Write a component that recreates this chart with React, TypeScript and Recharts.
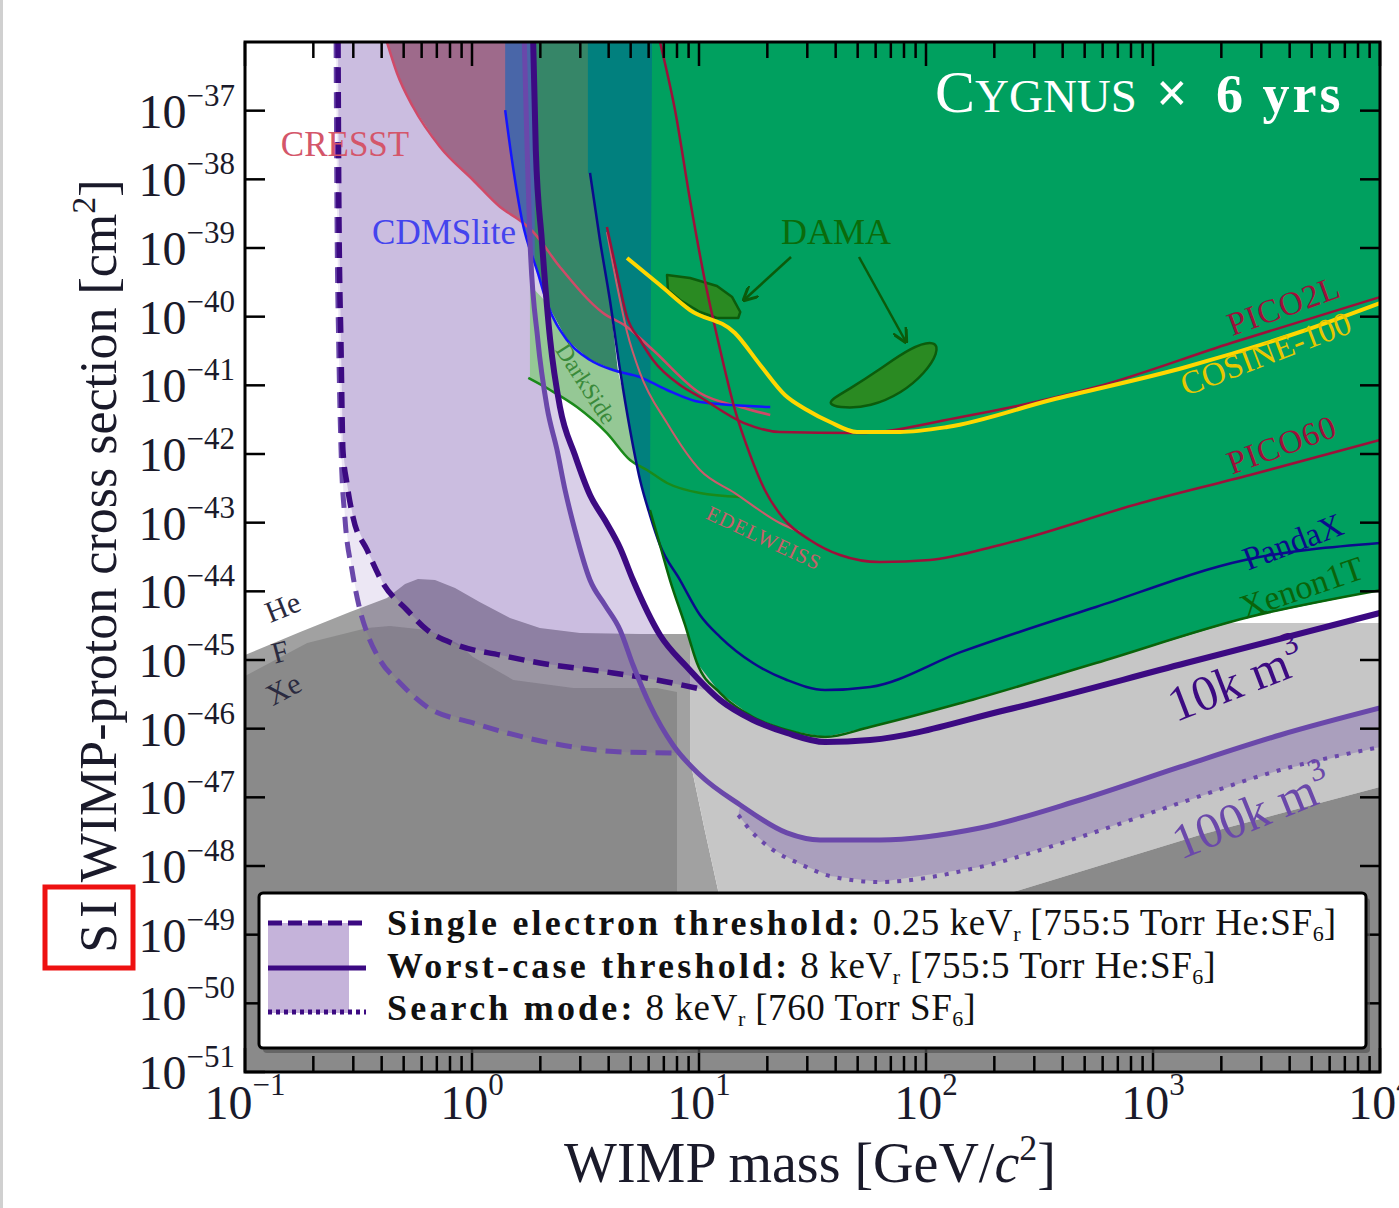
import React from "react";
import { ComposedChart, Scatter, XAxis, YAxis } from "recharts";

type Pt = [number, number];

// axes: WIMP mass [GeV/c^2] (log) and SI cross section [cm^2] (log)
const xMajor = [0.1, 1, 10, 100, 1000, 10000];
const xMinorSteps = [2, 3, 4, 5, 6, 7, 8, 9];
const yTicks = [
  1e-37, 1e-38, 1e-39, 1e-40, 1e-41, 1e-42, 1e-43, 1e-44, 1e-45, 1e-46, 1e-47, 1e-48, 1e-49, 1e-50, 1e-51,
];

// neutrino floor shading
const floorUpper: Pt[] = [
  [0.1, 1.18e-45], [0.175, 2.56e-45], [0.29, 5.0e-45], [0.422, 8.0e-45], [0.507, 1.28e-44],
  [0.578, 1.51e-44], [0.687, 1.46e-44], [0.842, 1.12e-44], [1.08, 7.0e-45], [1.47, 4.09e-45],
  [1.99, 2.92e-45], [2.99, 2.47e-45], [5.5, 2.39e-45], [9.13, 2.39e-45], [9.13, 3.5e-47],
  [10.6, 3.34e-48], [12.4, 3.2e-49], [14.4, 1.12e-50], [15.2, 1e-51], [0.1, 1e-51],
];
const floorLower: Pt[] = [
  [0.1, 5.85e-46], [0.188, 1.77e-45], [0.345, 2.92e-45], [0.435, 3.13e-45], [0.634, 2.74e-45],
  [0.859, 1.77e-45], [1.01, 1.11e-45], [1.52, 5.12e-46], [2.79, 3.91e-46], [6.53, 3.91e-46],
  [8.0, 3.42e-46], [8.0, 1e-51], [0.1, 1e-51],
];
const floorLight: Pt[] = [
  [9.13, 3.46e-45], [10000, 3.46e-45], [10000, 1.42e-47], [1610, 2.82e-48], [242, 4.18e-49],
  [76.8, 9.89e-50], [34.1, 1.85e-50], [18.6, 2.92e-51], [15.2, 1e-51], [14.4, 1.12e-50],
  [12.4, 3.2e-49], [10.6, 3.34e-48], [9.13, 3.5e-47],
];
const floorDeep: Pt[] = [
  [242, 4.18e-49], [1610, 2.82e-48], [10000, 1.42e-47], [10000, 1e-51], [8.0, 1e-51],
  [8.0, 1.9e-51], [18.6, 2.92e-51], [34.1, 1.85e-50], [76.8, 9.89e-50],
];

// CYGNUS projections
const dashed10k: Pt[] = [
  [0.257, 1e-36], [0.259, 5.0e-39], [0.265, 3.27e-41], [0.27, 1.14e-42], [0.281, 3.78e-43],
  [0.299, 1.21e-43], [0.345, 4.0e-44], [0.405, 1.32e-44], [0.517, 5.35e-45], [0.634, 2.74e-45],
  [0.859, 1.65e-45], [1.33, 1.18e-45], [1.99, 9.04e-46], [3.93, 6.68e-46], [6.53, 5.12e-46],
  [10.6, 3.66e-46],
];
const solid10k: Pt[] = [
  [1.86, 1e-36], [1.91, 2.67e-38], [2.03, 1.31e-39], [2.21, 4.57e-41], [2.44, 4.84e-42],
  [2.84, 9.67e-43], [3.31, 2.53e-43], [3.85, 1.09e-43], [4.49, 4.28e-44], [5.12, 1.46e-44],
  [6.73, 2.31e-45], [8.85, 7.91e-46], [12.4, 2.61e-46], [17.3, 1.34e-46], [24.4, 8.65e-47],
  [35.9, 6.4e-47], [56.7, 6.84e-47], [225, 1.87e-46], [1400, 9.04e-46], [10000, 4.84e-45],
];
const dashed100k: Pt[] = [
  [0.252, 1e-36], [0.254, 5.0e-39], [0.259, 3.27e-41], [0.265, 1.14e-42], [0.276, 1.09e-43],
  [0.296, 2.05e-44], [0.321, 5.35e-45], [0.345, 2.47e-45], [0.393, 1.0e-45], [0.482, 4.62e-46],
  [0.634, 2.07e-46], [1.01, 1.21e-46], [1.68, 7.57e-47], [2.79, 5.41e-47], [4.63, 4.57e-47],
  [8.25, 4.43e-47],
];
const solid100k: Pt[] = [
  [1.7, 1e-36], [1.75, 2.67e-38], [1.8, 1.31e-39], [1.95, 4.57e-41], [2.14, 4.84e-42],
  [2.37, 1.14e-42], [2.57, 2.99e-43], [2.84, 7.82e-44], [3.31, 1.46e-44], [3.85, 6.32e-45],
  [4.49, 2.74e-45], [5.12, 8.45e-46], [6.08, 2.21e-46], [7.68, 5.78e-47], [10.1, 2.11e-47],
  [15.2, 7.73e-48], [24.4, 3.03e-48], [34.1, 2.39e-48], [62.7, 2.39e-48], [173, 3.57e-48],
  [477, 9.14e-48], [1315, 2.77e-47], [3630, 8.09e-47], [10000, 2.0e-46],
];
const dotted100k: Pt[] = [
  [14.9, 5.53e-48], [16.8, 3.34e-48], [20.6, 1.83e-48], [27.9, 1.07e-48], [37.8, 7.14e-49],
  [62.7, 5.85e-49], [173, 9.68e-49], [477, 2.64e-48], [1315, 8.28e-48], [3630, 2.5e-47],
  [10000, 5.41e-47],
];

// existing limits
const cresstLine: Pt[] = [
  [0.422, 1e-36], [0.467, 3.54e-37], [0.55, 1.13e-37], [0.723, 2.96e-38], [1.01, 9.78e-39],
  [1.33, 3.95e-39], [1.66, 2.39e-39], [1.86, 1.71e-39], [2.44, 5.28e-40], [3.78, 1.13e-40],
  [4.82, 7.08e-41], [6.27, 3.27e-41], [10.1, 7.73e-42], [15.2, 4.84e-42], [20.6, 3.7e-42],
];
const cdmsLine: Pt[] = [
  [1.4, 1.02e-37], [1.5, 1.91e-38], [1.66, 2.56e-39], [1.95, 4.33e-40], [2.14, 1.58e-40],
  [2.62, 4.57e-41], [3.31, 2.34e-41], [4.18, 1.67e-41], [5.5, 1.32e-41], [7.23, 8.55e-42],
  [10.1, 5.71e-42], [20.6, 4.84e-42],
];
const darkSideLine: Pt[] = [
  [1.77, 1.28e-41], [2.21, 8.55e-42], [2.9, 4.84e-42], [3.93, 2.02e-42], [4.97, 8.18e-43],
  [5.9, 5.85e-43], [7.23, 3.78e-43], [10.1, 2.7e-43], [15.2, 2.37e-43],
];
const darkSideRegion: Pt[] = [
  [1.8, 2.89e-40], [2.14, 1.58e-40], [2.62, 4.57e-41], [3.31, 2.34e-41], [4.4, 1.56e-41],
  [4.72, 6.11e-42], [5.07, 1.6e-42], [5.28, 7.66e-43], [4.97, 8.18e-43], [3.93, 2.02e-42],
  [2.9, 4.84e-42], [2.21, 8.55e-42], [1.8, 1.28e-41],
];
const edelweissLine: Pt[] = [
  [3.93, 1.71e-39], [4.35, 2.89e-40], [4.82, 5.98e-41], [5.5, 1.51e-41], [7.23, 2.82e-42],
  [10.1, 5.85e-43], [14.4, 2.7e-43], [22.7, 9.89e-44], [27.9, 7.31e-44],
];
const pico2lLine: Pt[] = [
  [3.93, 2.02e-39], [4.35, 4.33e-40], [4.82, 9.89e-41], [5.5, 4.57e-41], [6.27, 2.34e-41],
  [8.25, 1.01e-41], [10.1, 6.76e-42], [15.8, 2.82e-42], [22.7, 2.09e-42], [49.7, 2.02e-42],
  [143, 3.46e-42], [561, 9.46e-42], [2210, 4.14e-41], [10000, 1.93e-40],
];
const pico60Line: Pt[] = [
  [6.73, 1e-36], [7.84, 1.02e-37], [9.13, 5.0e-39], [10.6, 3.42e-40], [12.4, 3.27e-41],
  [14.4, 4.38e-42], [16.8, 9.67e-43], [19.5, 2.99e-43], [23.9, 1.09e-43], [30.8, 5.6e-44],
  [41.8, 3.38e-44], [62.7, 2.67e-44], [104, 2.86e-44], [212, 4.73e-44], [885, 1.93e-43],
  [2675, 4.94e-43], [10000, 1.6e-42],
];
const cosineLine: Pt[] = [
  [4.82, 7.14e-40], [6.73, 2.89e-40], [9.13, 1.25e-40], [14.4, 5.78e-41], [18.6, 1.98e-41],
  [23.9, 7.23e-42], [29.9, 4.38e-42], [37.8, 2.92e-42], [49.7, 2.09e-42], [76.8, 2.09e-42],
  [124, 2.47e-42], [355, 6.11e-42], [1400, 1.85e-41], [4440, 5.98e-41], [10000, 1.58e-40],
];
const pandaxLine: Pt[] = [
  [3.31, 1.24e-38], [3.66, 1.31e-39], [4.05, 1.75e-40], [4.49, 1.67e-41], [4.97, 2.24e-42],
  [5.5, 4.18e-43], [6.08, 1.29e-43], [6.73, 4.73e-44], [8.25, 1.46e-44], [10.1, 4.52e-45],
  [12.4, 2.16e-45], [17.3, 9.04e-46], [24.4, 5.12e-46], [35.9, 3.66e-46], [56.7, 4.05e-46],
  [143, 1.31e-45], [561, 5.92e-45], [2540, 2.86e-44], [10000, 5.06e-44],
];
const xenonLine: Pt[] = [
  [6.08, 1.53e-43], [6.73, 4.73e-44], [7.45, 1.46e-44], [8.68, 3.24e-45], [9.8, 9.04e-46],
  [12.4, 3.3e-46], [17.3, 1.48e-46], [24.4, 9.57e-47], [35.9, 7.57e-47], [56.7, 1.06e-46],
  [143, 2.37e-46], [561, 9.04e-46], [2650, 4.23e-45], [10000, 1.04e-44],
];
const dama1: Pt[] = [
  [7.23, 4.05e-40], [9.13, 3.66e-40], [12.0, 2.8e-40], [14.0, 1.93e-40], [15.2, 1.17e-40],
  [14.9, 9.57e-41], [12.0, 9.57e-41], [10.1, 1.17e-40], [8.25, 1.75e-40], [7.3, 2.44e-40],
];
const dama2: Pt[] = [
  [37.8, 6.11e-42], [45.3, 8.55e-42], [62.1, 1.67e-41], [85.9, 3.61e-41], [111, 4.57e-41],
  [113, 2.96e-41], [99.0, 1.51e-41], [78.4, 7.73e-42], [56.7, 4.84e-42], [43.1, 4.68e-42],
  [37.8, 5.18e-42],
];

// filled regions assembled from the curves above
const band10k: Pt[] = [...dashed10k, ...solid10k.filter((p) => p[0] < 10.6).reverse()];
const band100k: Pt[] = [...dashed100k, ...solid100k.filter((p) => p[0] < 8.25).reverse()];
const search100k: Pt[] = [...solid100k.filter((p) => p[0] >= 15.2), ...dotted100k.slice().reverse()];
const cresstRegion: Pt[] = [...cresstLine.slice(0, 7), [1.55, 1e-36]];
const cdmsRegion: Pt[] = [[1.4, 1e-36], [3.31, 1e-36], ...cdmsLine.slice(0, 7).reverse()];
const mixRegion: Pt[] = [
  [1.89, 1e-36], [3.31, 1e-36], ...pandaxLine.slice(0, 3), [4.4, 1.56e-41],
  ...cdmsLine.slice(3, 7).reverse(), [1.89, 5.5e-40],
];
const tealRegion: Pt[] = [[3.24, 1e-36], [6.21, 1e-36], [6.21, 1.21e-43], ...pandaxLine.slice(0, 7).reverse(), [3.24, 1.24e-38]];
const greenRegion: Pt[] = [[6.21, 1e-36], [10000, 1e-36], ...xenonLine.slice().reverse()];

const P10 = "#3c0a82";
const P100 = "#6a48aa";
const BAND = "#6b46a8";

interface Layer {
  data: Pt[];
  fill?: string;
  op?: number;
  stroke?: string;
  w?: number;
  dash?: string;
  curve?: string;
}

const layers: Layer[] = [
  { data: floorUpper, fill: "#a1a1a1" },
  { data: floorLower, fill: "#8a8a8a" },
  { data: floorLight, fill: "#c6c6c6" },
  { data: floorDeep, fill: "#8a8a8a" },
  { data: band100k, fill: BAND, op: 0.13 },
  { data: band10k, fill: BAND, op: 0.26 },
  { data: search100k, fill: BAND, op: 0.3 },
  { data: cresstRegion, fill: "#9e6a8b" },
  { data: cdmsRegion, fill: "#4966a8" },
  { data: mixRegion, fill: "#368668" },
  { data: tealRegion, fill: "#01807e" },
  { data: greenRegion, fill: "#00a05f" },
  { data: darkSideRegion, fill: "#95c895" },
  { data: dama1, fill: "#2a8a22", stroke: "#0c5c0c", w: 2.5, curve: "linearClosed" },
  { data: dama2, fill: "#2a8a22", stroke: "#0c5c0c", w: 2.5, curve: "basisClosed" },
  { data: cresstLine, stroke: "#d04a68", w: 2.5, curve: "monotoneX" },
  { data: cdmsLine, stroke: "#1515ff", w: 2.5, curve: "monotoneX" },
  { data: darkSideLine, stroke: "#1a8a1a", w: 2.5, curve: "monotoneX" },
  { data: edelweissLine, stroke: "#cc5b6b", w: 2, curve: "monotoneX" },
  { data: pico2lLine, stroke: "#9e0f3a", w: 2.5, curve: "monotoneX" },
  { data: pico60Line, stroke: "#9e0f3a", w: 2.5, curve: "monotoneX" },
  { data: pandaxLine, stroke: "#0b0b8c", w: 2.5, curve: "monotoneX" },
  { data: xenonLine, stroke: "#0a640a", w: 2.5, curve: "monotoneX" },
  { data: cosineLine, stroke: "#ffd700", w: 4, curve: "monotoneX" },
  { data: dashed100k, stroke: P100, w: 5, dash: "16 9", curve: "monotoneX" },
  { data: dashed10k, stroke: P10, w: 5.5, dash: "16 9", curve: "monotoneX" },
  { data: solid100k, stroke: P100, w: 5, curve: "monotoneX" },
  { data: solid10k, stroke: P10, w: 6, curve: "monotoneX" },
  { data: dotted100k, stroke: P100, w: 4, dash: "4 8", curve: "monotoneX" },
];

const xTicks = [...xMajor, ...xMajor.slice(0, 5).flatMap((d) => xMinorSteps.map((k) => d * k))];

const PLOT_W = 1135;
const PLOT_H = 1030;
const FONT = '"Liberation Serif", "Times New Roman", serif';

const expOf = (v: number) => Math.round(Math.log10(v));
const isMajor = (v: number) => Math.abs(Math.log10(v) - expOf(v)) < 1e-6;
const supText = (e: number) => (e < 0 ? "\u2212" + -e : String(e));

const Hidden = () => <g />;

function XTick(props: any) {
  const { x, y, payload } = props;
  const v = payload.value;
  const major = isMajor(v);
  const len = major ? 24 : 16;
  return (
    <g>
      <line x1={x} x2={x} y1={y} y2={y - len} stroke="#000" strokeWidth={2.5} />
      <line x1={x} x2={x} y1={y - PLOT_H} y2={y - PLOT_H + len} stroke="#000" strokeWidth={2.5} />
      {major && (
        <text x={x} y={y + 47} textAnchor="middle" fontFamily={FONT} fontSize={48} fill="#1a1a2a">
          10
          <tspan dy={-24} fontSize={31}>
            {supText(expOf(v))}
          </tspan>
        </text>
      )}
    </g>
  );
}

function YTick(props: any) {
  const { x, y, payload } = props;
  const e = expOf(payload.value);
  return (
    <g>
      <line x1={x} x2={x + 20} y1={y} y2={y} stroke="#000" strokeWidth={2.5} />
      <line x1={x + PLOT_W - 20} x2={x + PLOT_W} y1={y} y2={y} stroke="#000" strokeWidth={2.5} />
      <text x={x - 10} y={y + 17} textAnchor="end" fontFamily={FONT} fontSize={48} fill="#1a1a2a">
        10
        <tspan dy={-22} fontSize={31}>
          {supText(e)}
        </tspan>
      </text>
    </g>
  );
}

function Tag({ x, y, rot = 0, size, color, children, weight, spacing }: any) {
  return (
    <text
      transform={`translate(${x},${y}) rotate(${rot})`}
      textAnchor="middle"
      dominantBaseline="middle"
      fontSize={size}
      fill={color}
      fontWeight={weight}
      letterSpacing={spacing}
    >
      {children}
    </text>
  );
}

function Overlay() {
  const rows = [
    { y: 935, ly: 923, line: "14 6", bold: "Single electron threshold:", rest: " 0.25 keV", tail: " [755:5 Torr He:SF" },
    { y: 978, ly: 968, line: undefined, bold: "Worst-case threshold:", rest: " 8 keV", tail: " [755:5 Torr He:SF" },
    { y: 1020, ly: 1012, line: "4 4", bold: "Search mode:", rest: " 8 keV", tail: " [760 Torr SF" },
  ];
  return (
    <svg
      width={1399}
      height={1208}
      style={{ position: "absolute", left: 0, top: 0, pointerEvents: "none" }}
      fontFamily={FONT}
    >
      <defs>
        <marker id="ah" viewBox="0 0 10 10" refX="9" refY="5" markerWidth="6" markerHeight="6" orient="auto">
          <path d="M0,0 L10,5 L0,10" fill="none" stroke="#0b5b0b" strokeWidth={2} />
        </marker>
      </defs>
      <rect x={0} y={0} width={3} height={1208} fill="#d0d0d0" />
      <rect x={245} y={42} width={PLOT_W} height={PLOT_H} fill="none" stroke="#000" strokeWidth={3} />

      {/* experiment labels */}
      <Tag x={345} y={148} size={35} color="#d4566a">CRESST</Tag>
      <Tag x={444} y={236} size={35} color="#4444ee">CDMSlite</Tag>
      <Tag x={836} y={236} size={36} color="#0b6b0b">DAMA</Tag>
      <line x1={791} y1={257} x2={744} y2={300} stroke="#0b5b0b" strokeWidth={2.5} markerEnd="url(#ah)" />
      <line x1={859} y1={257} x2={906} y2={342} stroke="#0b5b0b" strokeWidth={2.5} markerEnd="url(#ah)" />
      <Tag x={584} y={385} rot={57} size={24} color="#3a8a3a">DarkSide</Tag>
      <Tag x={763} y={540} rot={25} size={21} color="#c8606a" spacing={1}>EDELWEISS</Tag>
      <Tag x={1285} y={309} rot={-20} size={33} color="#9e0f3a" spacing={1}>PICO2L</Tag>
      <Tag x={1267} y={357} rot={-21} size={33} color="#e8c800">COSINE-100</Tag>
      <Tag x={1283} y={448} rot={-20} size={33} color="#9e0f3a" spacing={1}>PICO60</Tag>
      <Tag x={1294} y={545} rot={-21} size={33} color="#0b0b8c">PandaX</Tag>
      <Tag x={1303} y={591} rot={-19} size={34} color="#0a640a">Xenon1T</Tag>
      <Tag x={1238} y={686} rot={-21} size={50} color={P10}>
        10k m<tspan dy={-18} fontSize={32}>3</tspan>
      </Tag>
      <Tag x={1254} y={818} rot={-22} size={50} color={P100}>
        100k m<tspan dy={-18} fontSize={32}>3</tspan>
      </Tag>
      <Tag x={284} y={610} rot={-22} size={30} color="#2a2a40">He</Tag>
      <Tag x={281} y={655} rot={-15} size={30} color="#2a2a40">F</Tag>
      <Tag x={285} y={692} rot={-28} size={30} color="#2a2a40">Xe</Tag>

      {/* title */}
      <text x={935} y={112} fill="#fff" fontSize={60}>
        C<tspan fontSize={47}>YGNUS</tspan>
      </text>
      <text x={1156} y={112} fill="#fff" fontSize={56} fontWeight="bold">×</text>
      <text x={1216} y={112} fill="#fff" fontSize={54} fontWeight="bold" letterSpacing={3}>6 yrs</text>

      {/* axis titles */}
      <text x={810} y={1182} textAnchor="middle" fontSize={56} fill="#1a1a2a">
        WIMP mass [GeV/<tspan fontStyle="italic">c</tspan>
        <tspan dy={-22} fontSize={36}>2</tspan>
        <tspan dy={22}>]</tspan>
      </text>
      <text transform="translate(116,566) rotate(-90)" textAnchor="middle" fontSize={52} fill="#1a1a2a">
        <tspan letterSpacing={6}>SI</tspan> WIMP-proton cross section [cm
        <tspan dy={-21} fontSize={34}>2</tspan>
        <tspan dy={21}>]</tspan>
      </text>
      <rect x={45} y={887} width={88} height={81} fill="none" stroke="#ee1111" strokeWidth={5} />

      {/* legend */}
      <rect x={263} y={898} width={1107} height={155} fill="#555" opacity={0.7} rx={4} />
      <rect x={259} y={893} width={1107} height={155} fill="#fff" stroke="#000" strokeWidth={3} rx={4} />
      <rect x={268} y={923} width={81} height={90} fill="#c5b3da" />
      {rows.map((r, i) => (
        <g key={i}>
          <line x1={268} x2={366} y1={r.ly} y2={r.ly} stroke={P10} strokeWidth={5} strokeDasharray={r.line} />
          <text x={387} y={r.y} fontSize={37} fill="#111">
            <tspan fontWeight="bold" fontSize={36} letterSpacing={3.2}>{r.bold}</tspan>
            <tspan letterSpacing={0.6}>{r.rest}</tspan>
            <tspan dy={6} fontSize={22}>r</tspan>
            <tspan dy={-6} letterSpacing={0.6}>{r.tail}</tspan>
            <tspan dy={6} fontSize={22}>6</tspan>
            <tspan dy={-6}>]</tspan>
          </text>
        </g>
      ))}
    </svg>
  );
}

export default function App() {
  return (
    <div style={{ position: "absolute", left: 0, top: 0, width: 1399, height: 1208, background: "#fff", overflow: "hidden" }}>
      <ComposedChart width={1399} height={1208} margin={{ top: 42, right: 19, bottom: 76, left: 145 }}>
        {layers.map((l, i) => (
          <Scatter
            key={i}
            data={l.data.map(([m, s]) => ({ m, s }))}
            shape={Hidden}
            line={{
              fill: l.fill ?? "none",
              fillOpacity: l.op ?? 1,
              stroke: l.stroke ?? "none",
              strokeWidth: l.w ?? 0,
              strokeDasharray: l.dash,
              strokeLinejoin: "round",
            }}
            lineJointType={(l.curve ?? "linear") as any}
            isAnimationActive={false}
            legendType="none"
          />
        ))}
        <XAxis
          dataKey="m"
          type="number"
          scale="log"
          domain={[0.1, 10000]}
          allowDataOverflow
          ticks={xTicks}
          interval={0}
          tick={XTick}
          tickLine={false}
          axisLine={false}
          tickSize={0}
          tickMargin={0}
          height={60}
          {...({ zIndex: 2500 } as any)}
        />
        <YAxis
          dataKey="s"
          type="number"
          scale="log"
          domain={[1e-51, 1e-36]}
          allowDataOverflow
          ticks={yTicks}
          interval={0}
          tick={YTick}
          tickLine={false}
          axisLine={false}
          tickSize={0}
          tickMargin={0}
          width={100}
          {...({ zIndex: 2500 } as any)}
        />
      </ComposedChart>
      <Overlay />
    </div>
  );
}
